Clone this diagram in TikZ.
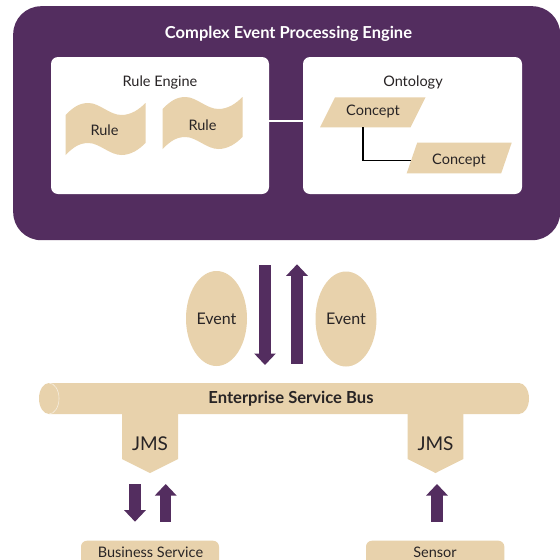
\documentclass[tikz,border=0pt]{standalone}
\usepackage{fontspec}
\setmainfont{Lato}
\usetikzlibrary{shapes.geometric,arrows.meta}
\definecolor{cepurple}{RGB}{83,45,95}
\definecolor{cebeige}{RGB}{232,210,172}
\definecolor{cetext}{RGB}{40,36,37}
\begin{document}
\begin{tikzpicture}[x=1pt,y=-1pt,
  lbl/.style={text=cetext, inner sep=0, font=\fontsize{14.5}{16}\selectfont},
  boldlbl/.style={text=cetext, inner sep=0, font=\fontsize{16.6}{18}\selectfont\bfseries},
  panel/.style={fill=white, rounded corners=7pt, inner sep=0, minimum width=218pt, minimum height=137pt},
  event/.style={ellipse, fill=cebeige, inner sep=0, minimum width=61pt, minimum height=95pt,
    text=cetext, font=\fontsize{16}{18}\selectfont},
  flow/.style={cepurple, line width=11.5pt, -{Triangle[width=21pt,length=11.5pt]}},
  link/.style={line width=1.3pt}]
\useasboundingbox (0,0) rectangle (560,560);
\fill[white] (0,0) rectangle (560,560);

% Complex event processing engine
\node[fill=cepurple, rounded corners=28pt, inner sep=0, minimum width=547pt, minimum height=234pt,
  anchor=north west] (cep) at (13,6) {};
\node[text=white, inner sep=0, font=\fontsize{16.5}{18}\selectfont\bfseries] (title) at (288.5,34)
  {Complex Event Processing Engine};

\node[panel] (reng) at (160,125.5) {};
\node[panel, minimum width=219pt] (onto) at (412.5,125.5) {};
\coordinate (rengR) at (269,121);
\coordinate (ontoL) at (303,121);
\draw[white, line width=1.5pt] (rengR) -- (ontoL);
\node[lbl] (rengt) at (160,82.5) {Rule Engine};
\node[lbl] (ontot) at (413,82.5) {Ontology};

% rule flags
\foreach \ox/\oy in {65.5/103, 162.5/97}{
  \fill[cebeige, shift={(\ox,\oy)}]
    (0,12) .. controls (8,4) and (14,0) .. (23,0)
    .. controls (34,0) and (44,12) .. (56,12)
    .. controls (66,12) and (74,6) .. (80,0)
    -- (80,40)
    .. controls (74,46) and (66,52) .. (56,52)
    .. controls (44,52) and (34,40) .. (23,40)
    .. controls (14,40) and (8,44) .. (0,52) -- cycle;
}
\node[lbl] (rule1) at (104.5,130) {Rule};
\node[lbl] (rule2) at (202.5,125.5) {Rule};

% concepts
\fill[cebeige] (320,127.3) -- (335,97.3) -- (425.5,97.3) -- (410.5,127.3) -- cycle;
\fill[cebeige] (406.7,173.3) -- (417.2,142.7) -- (511.7,142.7) -- (501.2,173.3) -- cycle;
\node[lbl] (con1) at (373,111.7) {Concept};
\node[lbl] (con2) at (459,160) {Concept};
\coordinate (con1foot) at (363,127.3);
\coordinate (con2side) at (411.2,160.7);
\draw[link] (con1foot) |- (con2side);

% events between engine and bus
\node[event] (ev1) at (216.5,318.5) {Event};
\node[event] (ev2) at (346,319) {Event};
\coordinate (dnA) at (265,265);
\coordinate (dnB) at (265,365);
\coordinate (upA) at (297,363.7);
\coordinate (upB) at (297,264.3);
\draw[flow] (dnA) -- (dnB);
\draw[flow] (upA) -- (upB);

% enterprise service bus
\fill[cebeige] (49,383) -- (519,383) arc[start angle=-90, end angle=90, x radius=10, y radius=15.5]
  -- (49,414) arc[start angle=90, end angle=270, x radius=10, y radius=15.5] -- cycle;
\draw[white, opacity=.6, line width=.6pt] (49,383) arc[start angle=-90, end angle=90, x radius=10, y radius=15.5];
\node[boldlbl] (esb) at (291,399) {Enterprise Service Bus};

% JMS adapters
\fill[cebeige] (122,413) -- (178,413) -- (178,459) -- (150,473) -- (122,459) -- cycle;
\fill[cebeige] (407.7,413) -- (463.3,413) -- (463.3,459) -- (435.5,473) -- (407.7,459) -- cycle;
\node[lbl, font=\fontsize{19}{21}\selectfont] (jms1) at (150,443.5) {JMS};
\node[lbl, font=\fontsize{19}{21}\selectfont] (jms2) at (435.5,443.5) {JMS};

\coordinate (bsDnA) at (135,484);
\coordinate (bsDnB) at (135,521.7);
\coordinate (bsUpA) at (165.7,521.7);
\coordinate (bsUpB) at (165.7,484);
\coordinate (snUpA) at (437,521.7);
\coordinate (snUpB) at (437,484);
\draw[flow] (bsDnA) -- (bsDnB);
\draw[flow] (bsUpA) -- (bsUpB);
\draw[flow] (snUpA) -- (snUpB);

% endpoints
\fill[cebeige, rounded corners=6pt] (81,540.7) rectangle (219,580);
\fill[cebeige, rounded corners=6pt] (366,540.7) rectangle (504.3,580);
\node[lbl] (bsvc) at (150.5,552.5) {Business Service};
\node[lbl] (sens) at (435,552.5) {Sensor};
\end{tikzpicture}
\end{document}
